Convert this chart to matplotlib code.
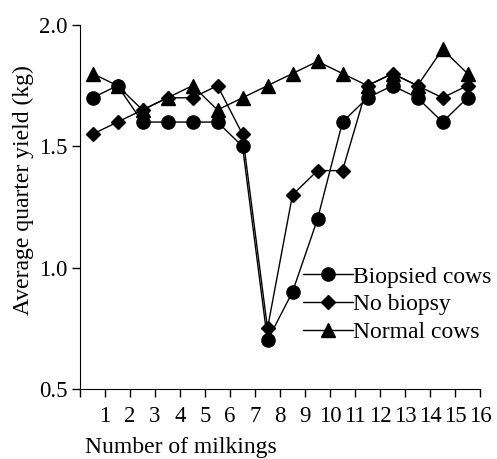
import matplotlib
matplotlib.use("Agg")
import matplotlib.pyplot as plt

plt.rcParams['font.family'] = ['Liberation Serif', 'DejaVu Serif']

milking = [0.5, 1.5, 2.5, 3.5, 4.5, 5.5, 6.5, 7.5, 8.5, 9.5, 10.5, 11.5, 12.5, 13.5, 14.5, 15.5]
biopsied = [1.70, 1.75, 1.60, 1.60, 1.60, 1.60, 1.50, 0.70, 0.90, 1.20, 1.60, 1.70, 1.75, 1.70, 1.60, 1.70]
no_biopsy = [1.55, 1.60, 1.65, 1.70, 1.70, 1.75, 1.55, 0.75, 1.30, 1.40, 1.40, 1.75, 1.80, 1.75, 1.70, 1.75]
normal = [1.80, 1.75, 1.65, 1.70, 1.75, 1.65, 1.70, 1.75, 1.80, 1.85, 1.80, 1.75, 1.80, 1.75, 1.90, 1.80]
xticks = list(range(0, 17))
xticklabels = [''] + [str(i) for i in range(1, 17)]
yticks = [0.5, 1.0, 1.5, 2.0]
yticklabels = ['0.5', '1.0', '1.5', '2.0']

fig = plt.figure(figsize=(4.97, 4.59), dpi=100)
ax = fig.add_axes([80/497, 1-389/459, 400/497, 364/459])

ax.plot(milking, biopsied, color='black', lw=1, marker='o', ms=9.5, label='Biopsied cows', zorder=3)
ax.plot(milking, no_biopsy, color='black', lw=1, marker='D', ms=7, label='No biopsy', zorder=4)
ax.plot(milking, normal, color='black', lw=1, marker='^', ms=10, label='Normal cows', zorder=2)

ax.set_xlim(0, 16)
ax.set_ylim(0.5, 2.0)
ax.set_xticks(xticks)
ax.set_xticklabels(xticklabels)
ax.set_yticks(yticks)
ax.set_yticklabels(yticklabels)
ax.spines['top'].set_visible(False)
ax.spines['right'].set_visible(False)
ax.tick_params(direction='out', length=6, width=1, labelsize=16.5, colors='black', pad=3)
ax.tick_params(axis='x', pad=6)

fig.text(85/497, 1-448/459, 'Number of milkings', fontsize=17, ha='left', va='center')
fig.text(23/497, 1-190/459, 'Average quarter yield (kg)', fontsize=17, rotation=90, ha='center', va='center')

leg = ax.legend(loc='upper left', bbox_to_anchor=(303/497, 1-266/459), bbox_transform=fig.transFigure,
                frameon=False, fontsize=17, handlelength=2.1, handletextpad=0.0, labelspacing=0.26,
                borderpad=0, borderaxespad=0)

fig.savefig('out.png', dpi=100)
